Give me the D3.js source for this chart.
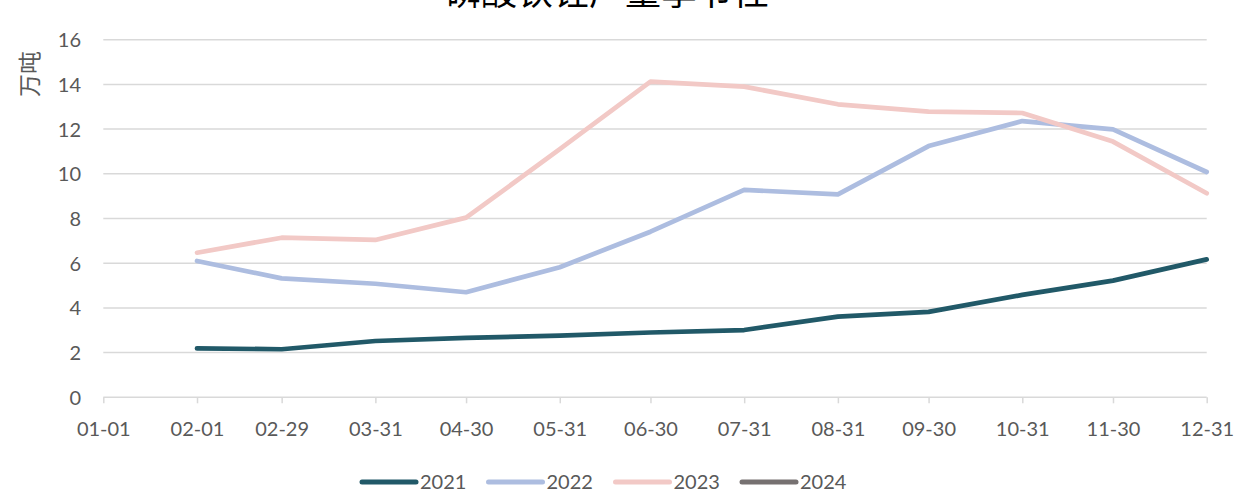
<!DOCTYPE html>
<html>
<head>
<meta charset="utf-8">
<script src="https://cdn.jsdelivr.net/npm/d3@7"></script>
<style>
  html, body { margin: 0; padding: 0; background: #fff; }
  svg { display: block; }
</style>
</head>
<body>
<svg id="chart" width="1239" height="492"></svg>
<script>
// ---- data ----
const title = "磷酸铁锂产量季节性";
const yTitle = "万吨";
const tickDates = ["01-01","02-01","02-29","03-31","04-30","05-31","06-30","07-31","08-31","09-30","10-31","11-30","12-31"];
const pointDates = ["02-01","02-29","03-31","04-30","05-31","06-30","07-31","08-31","09-30","10-31","11-30","12-31"];
const seriesNames = ["2021","2022","2023","2024"];
const values2021 = [2.19, 2.15, 2.52, 2.66, 2.76, 2.90, 3.01, 3.61, 3.82, 4.58, 5.22, 6.17];
const values2022 = [6.10, 5.32, 5.08, 4.70, 5.82, 7.41, 9.28, 9.08, 11.24, 12.36, 11.99, 10.08];
const values2023 = [6.47, 7.14, 7.04, 8.04, 11.10, 14.12, 13.90, 13.11, 12.78, 12.72, 11.44, 9.13];
const values2024 = [];
const yTicks = [0, 2, 4, 6, 8, 10, 12, 14, 16];
const colors = ["#215968", "#adbde0", "#f2c9c6", "#767171"];

// ---- drawing ----
const svg = d3.select("#chart");
const parse = d3.timeParse("%Y-%m-%d");
const toDate = s => parse("2024-" + s);

const x = d3.scaleTime()
  .domain([toDate("01-01"), toDate("12-31")])
  .range([103.3, 1206.7]);
const y = d3.scaleLinear().domain([0, 16]).range([397.3, 39.7]);

const font = "Lato, 'Noto Sans', sans-serif";
const labelColor = "#595959";

// gridlines
svg.append("g")
  .selectAll("line")
  .data(yTicks.filter(d => d > 0))
  .join("line")
  .attr("x1", x.range()[0]).attr("x2", x.range()[1])
  .attr("y1", d => y(d)).attr("y2", d => y(d))
  .attr("stroke", "#d9d9d9").attr("stroke-width", 1.5);

// y axis labels
const yAxis = d3.axisLeft(y).tickValues(yTicks).tickSize(0).tickPadding(0).tickFormat(d3.format("d"));
const yG = svg.append("g").attr("transform", "translate(81,0)").call(yAxis);
yG.select(".domain").remove();
yG.selectAll("text")
  .attr("font-family", font).attr("font-size", 20).attr("fill", labelColor)
  .attr("dy", "0.35em");

// x axis
const xAxis = d3.axisBottom(x)
  .tickValues(tickDates.map(toDate))
  .tickSize(6).tickPadding(0)
  .tickFormat(d3.timeFormat("%m-%d"));
const xG = svg.append("g").attr("transform", `translate(0,${y(0)})`).call(xAxis);
xG.select(".domain").attr("stroke", "#d9d9d9").attr("stroke-width", 1.5)
  .attr("d", `M${x.range()[0]},0H${x.range()[1]}`);
xG.selectAll(".tick line").attr("stroke", "#d9d9d9").attr("stroke-width", 1.5);
xG.selectAll("text")
  .attr("font-family", font).attr("font-size", 20).attr("fill", labelColor)
  .attr("dy", 0).attr("y", 39);

// y title
svg.append("text")
  .attr("transform", "translate(38,74) rotate(-90)")
  .attr("text-anchor", "middle")
  .attr("font-family", "'Noto Sans CJK SC', sans-serif")
  .attr("font-size", 23).attr("fill", labelColor)
  .text(yTitle);

// title (partly cut off at top)
svg.append("text")
  .attr("x", 607).attr("y", 5)
  .attr("text-anchor", "middle")
  .attr("font-family", "'Noto Sans CJK SC', sans-serif")
  .attr("font-size", 36).attr("fill", "#000")
  .text(title);

// lines
const allValues = [values2021, values2022, values2023, values2024];
const line = d3.line()
  .x(d => x(d.date)).y(d => y(d.value));
allValues.forEach((vals, i) => {
  if (!vals.length) return;
  const pts = vals.map((v, j) => ({ date: toDate(pointDates[j]), value: v }));
  svg.append("path")
    .datum(pts)
    .attr("d", line)
    .attr("fill", "none")
    .attr("stroke", colors[i])
    .attr("stroke-width", 4.7)
    .attr("stroke-linecap", "round")
    .attr("stroke-linejoin", "round");
});

// legend
const legendX = [362, 488.5, 615.5, 742];
const legend = svg.append("g");
seriesNames.forEach((name, i) => {
  const g = legend.append("g").attr("transform", `translate(${legendX[i]},482)`);
  g.append("line").attr("x1", 0).attr("x2", 54).attr("y1", 0).attr("y2", 0)
    .attr("stroke", colors[i]).attr("stroke-width", 5).attr("stroke-linecap", "round");
  g.append("text").attr("x", 58).attr("y", 0).attr("dy", "0.35em")
    .attr("font-family", font).attr("font-size", 20).attr("fill", labelColor)
    .text(name);
});
</script>
</body>
</html>
